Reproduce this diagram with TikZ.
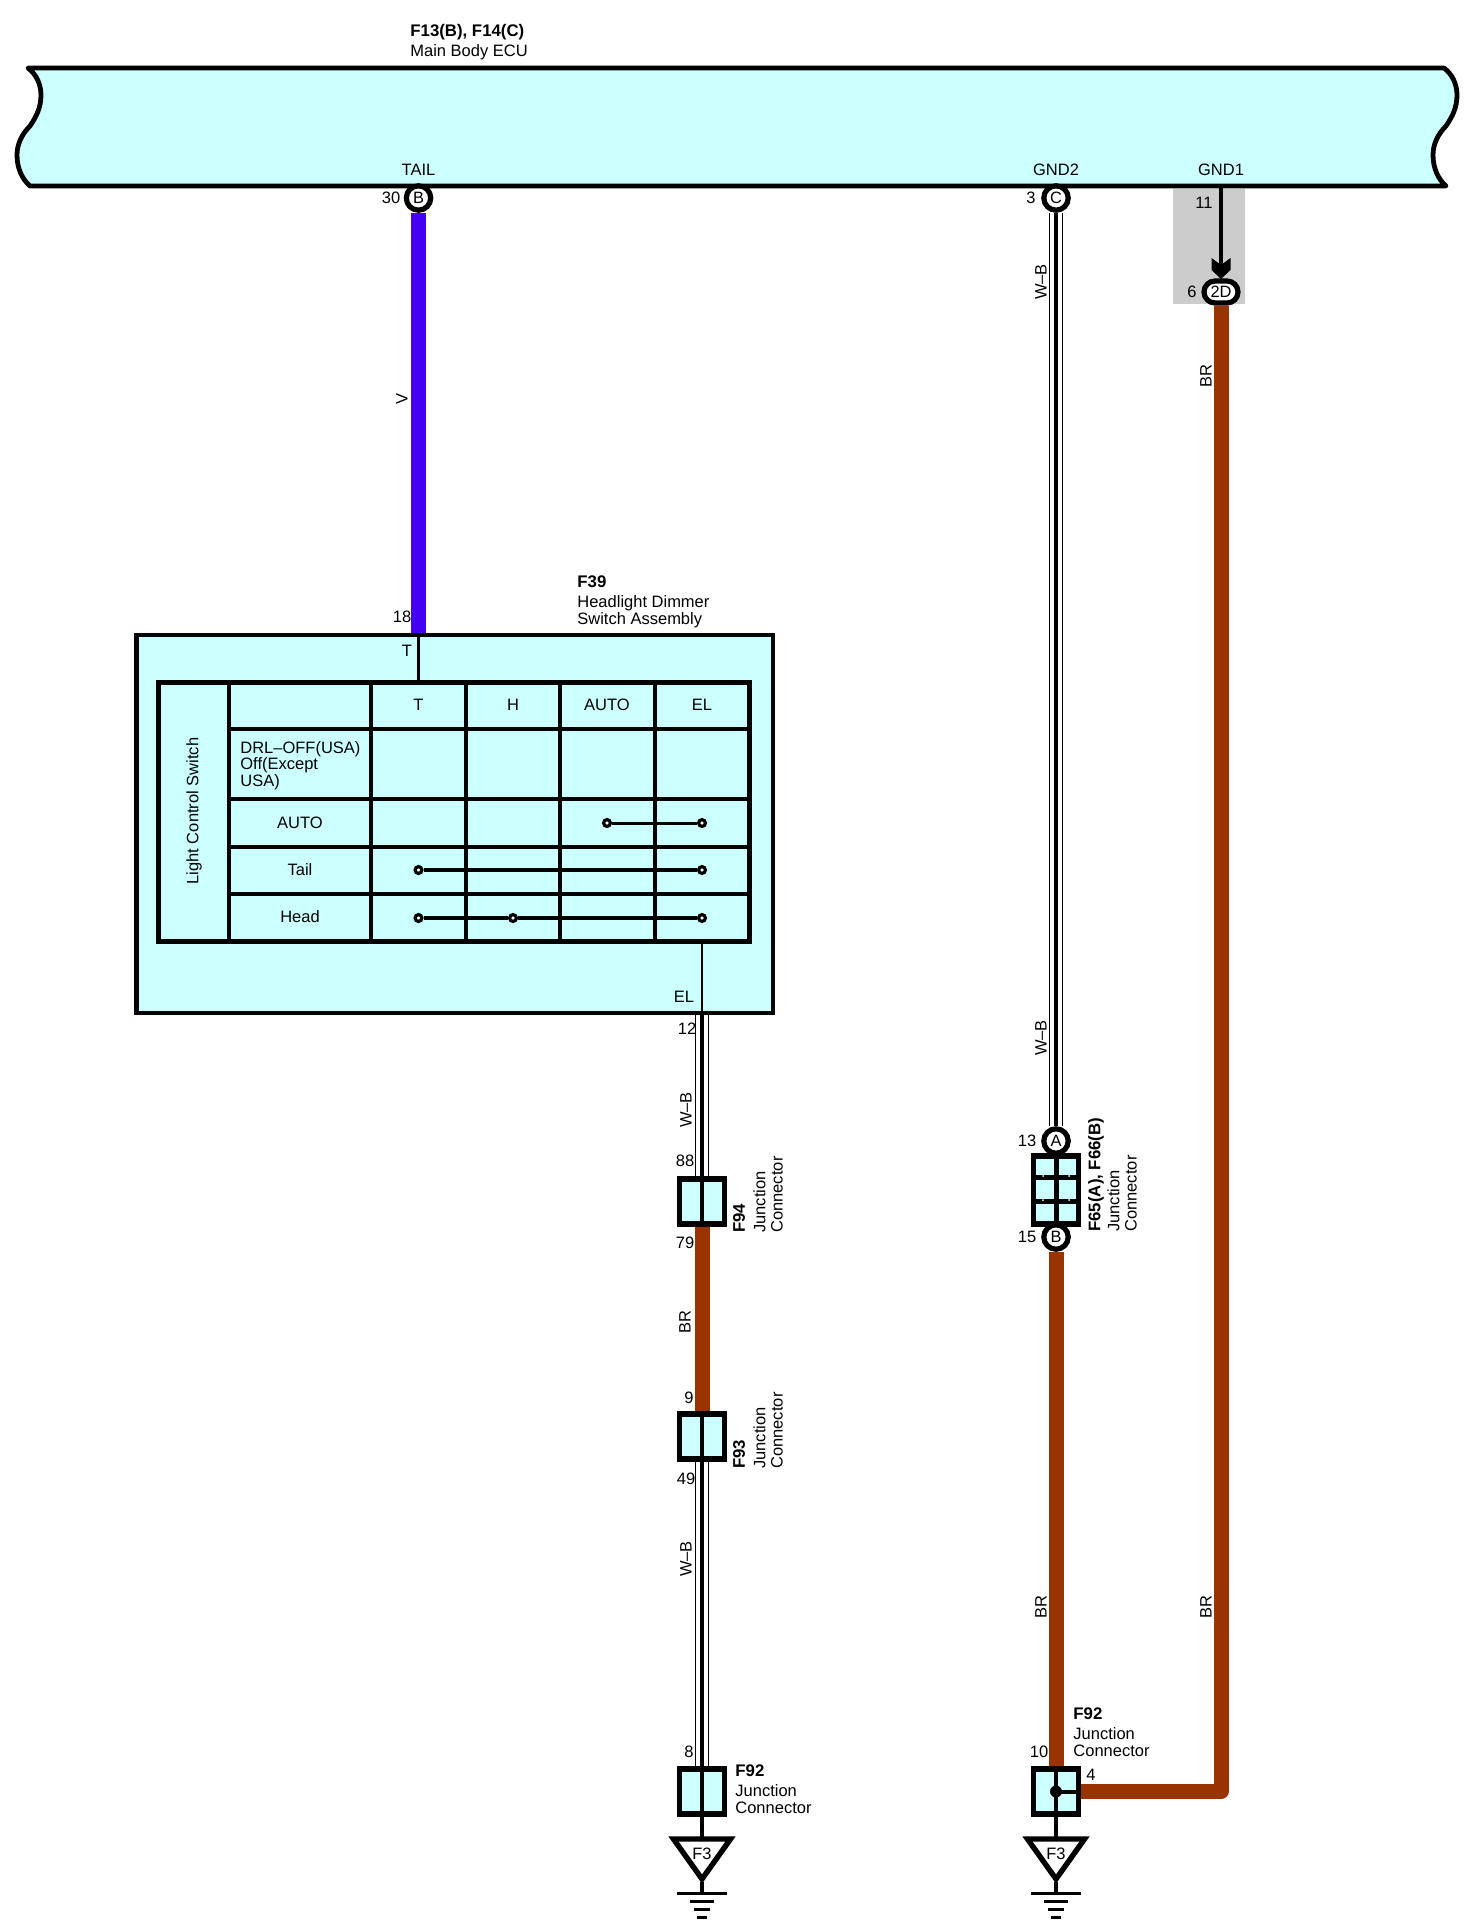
\documentclass[tikz,border=0pt]{standalone}
\usepackage{fontspec}
\setmainfont{Liberation Sans}
\usetikzlibrary{shapes.misc}
\definecolor{panel}{HTML}{CCFFFF}
\definecolor{wirev}{HTML}{4400F0}
\definecolor{wirebr}{HTML}{993300}
\definecolor{greyzone}{HTML}{CCCCCC}
\tikzset{
  x=0.5pt,y=-0.5pt,
  txt/.style={font=\fontsize{8.25}{8.25}\selectfont,inner sep=0pt,align=left},
  ttl/.style={font=\fontsize{8.4}{8.4}\bfseries\selectfont,inner sep=0pt},
  pin/.style={circle,draw=black,fill=white,line width=2.6pt,minimum size=12.2pt,inner sep=0pt,font=\fontsize{8.2}{8.2}\selectfont},
  oval/.style={rounded rectangle,draw=black,fill=white,line width=2.6pt,minimum width=17pt,minimum height=11pt,inner sep=0pt,font=\fontsize{8.2}{8.2}\selectfont},
  jbox/.style={rectangle,draw=black,fill=panel,line width=2.8pt,minimum width=22.6pt,minimum height=22.6pt,inner sep=0pt},
  wireV/.style={draw=wirev,line width=7.5pt},
  wireBR/.style={draw=wirebr,line width=7.5pt,line join=round},
  wireWB/.style={draw=black,line width=6.8pt,postaction={draw=white,line width=5.8pt},postaction={draw=black,line width=2.2pt}},
  thin wire/.style={draw=black,line width=1.4pt},
  grid/.style={draw=black,line width=1.7pt},
  gnd/.style={draw=black,line width=1.5pt},
  tri/.style={draw=black,fill=white,line width=2.7pt,line join=miter},
  dot/.style={circle,draw=black,fill=white,line width=1.6pt,minimum size=3.4pt,inner sep=0pt},
}
\begin{document}
\begin{tikzpicture}
\useasboundingbox (0,0) rectangle (1470,1932);
% ECU
\fill[greyzone] (1173,189) rectangle (1245,304);
\path[draw=black,fill=panel,line width=2.4pt,line join=round]
 (28,68) -- (1444,68)
 .. controls (1452,74) and (1457,84) .. (1457,95)
 .. controls (1457,108) and (1452,117) .. (1446,126)
 .. controls (1438,134) and (1433,144) .. (1433,155)
 .. controls (1433,168) and (1438,179) .. (1446,186)
 -- (30,186)
 .. controls (22,179) and (17,168) .. (17,155)
 .. controls (17,144) and (22,134) .. (30,126)
 .. controls (36,117) and (41,108) .. (41,95)
 .. controls (41,84) and (36,74) .. (28,68) -- cycle;
\coordinate (ecuGnd) at (1221,186);
\node[ttl,anchor=west] (ecuT) at (410,32) {F13(B), F14(C)};
\node[txt,anchor=west] (ecuN) at (410,52) {Main Body ECU};
\node[txt] (lTail) at (418.5,170) {TAIL};
\node[txt] (lG2) at (1056,170) {GND2};
\node[txt] (lG1) at (1221,170) {GND1};
% pins
\node[pin] (pB) at (418.5,198) {B};
\node[pin] (pC) at (1056,198) {C};
\node[oval] (p2D) at (1221,292) {2D};
\node[pin] (pA) at (1056,1141) {A};
\node[pin] (pBb) at (1056,1237) {B};
\node[txt] (n30) at (391,198) {30};
\node[txt] (n3) at (1031,198) {3};
\node[txt] (n11) at (1204,203) {11};
\node[txt] (n6) at (1192,292) {6};
\node[txt] (n13) at (1027,1141) {13};
\node[txt] (n15) at (1027,1237) {15};
% dimmer switch
\node[rectangle,draw=black,fill=panel,line width=2.4pt,minimum width=318.25pt,minimum height=189pt,inner sep=0pt] (sw) at (454.7,824) {};
\coordinate (swTi) at (418.5,636);
\coordinate (swBi) at (702,1011);
\coordinate (tblT) at (418.5,682);
\coordinate (tblB) at (702,941);
\draw[thin wire] (swTi) -- (tblT);
\draw[thin wire] (tblB) -- (swBi);
\draw[grid] (229,681) -- (229,941)
 (371,681) -- (371,941) (466,681) -- (466,941) (560,681) -- (560,941) (655,681) -- (655,941)
 (229,729) -- (750,729) (229,799) -- (750,799) (229,847) -- (750,847) (229,894) -- (750,894);
\draw[draw=black,line width=2.5pt] (158,682) rectangle (749,941);
\node[txt,rotate=90] (lcs) at (194,811) {Light Control Switch};
\node[txt] (hT) at (418.5,705) {T};
\node[txt] (hH) at (513,705) {H};
\node[txt] (hA) at (607,705) {AUTO};
\node[txt] (hE) at (702,705) {EL};
\node[txt,anchor=north west,font=\fontsize{8.25}{8.3}\selectfont] (rD) at (240,741) {DRL–OFF(USA)\\Off(Except\\USA)};
\node[txt] (rA) at (300,823) {AUTO};
\node[txt] (rT) at (300,870) {Tail};
\node[txt] (rH) at (300,917) {Head};
\node[dot] (a1) at (607,823) {};
\node[dot] (a2) at (702,823) {};
\node[dot] (t1) at (418.5,870) {};
\node[dot] (t2) at (702,870) {};
\node[dot] (h1) at (418.5,918) {};
\node[dot] (h2) at (513,918) {};
\node[dot] (h3) at (702,918) {};
\draw[draw=black,line width=1.5pt] (a1) -- (a2);
\draw[draw=black,line width=1.7pt] (t1) -- (t2);
\draw[draw=black,line width=2pt] (h1) -- (h2);
\draw[draw=black,line width=2pt] (h2) -- (h3);
\node[ttl,anchor=west] (swt) at (577,582) {F39};
\node[txt,anchor=north west,font=\fontsize{8.25}{8.6}\selectfont] (swn) at (577,595) {Headlight Dimmer\\Switch Assembly};
\node[txt] (n18) at (402,617) {18};
\node[txt] (lT) at (407,651) {T};
\node[txt] (lEL) at (684,997) {EL};
\node[txt] (n12) at (687,1029) {12};
% junctions
\node[jbox] (j94) at (702,1201.5) {};
\node[jbox] (j93) at (702,1436.5) {};
\node[jbox] (j92l) at (702,1791.5) {};
\node[jbox,minimum height=34pt] (j65) at (1056,1190) {};
\node[jbox] (j92r) at (1056,1791.5) {};
\foreach \b in {j94,j93,j92l}{\draw[draw=black,line width=2pt] (\b.north) -- (\b.south);}
\draw[draw=black,line width=2.5pt] (j65.north) -- (j65.south);
\draw[draw=black,line width=2.5pt] (j65.west |- 0,1177) -- (j65.east |- 0,1177);
\draw[draw=black,line width=2.5pt] (j65.west |- 0,1201) -- (j65.east |- 0,1201);
\fill[white] (1043,1176) circle[radius=1] (1069,1176) circle[radius=1] (1043,1200) circle[radius=1] (1069,1200) circle[radius=1];
\draw[draw=black,line width=2pt] (j92r.north) -- (j92r.south);
\draw[draw=black,line width=2pt] (j92r.center) -- (j92r.east);
\fill[black] (j92r.center) circle[radius=6];
% wires
\draw[wireV] (pB) -- (sw.north -| pB);
\draw[wireWB] (sw.south -| j94.north) -- (j94.north);
\draw[wireBR] (j94.south) -- (j93.north);
\draw[wireWB] (j93.south) -- (j92l.north);
\draw[wireWB] (pC) -- (pA);
\draw[wireBR] (pBb) -- (j92r.north);
\draw[wireBR] (p2D) |- (j92r.east);
\draw[draw=black,line width=2pt] (ecuGnd) -- (1221,272);
\fill[black] (1211.5,258) -- (1221,265) -- (1230.5,258) -- (1230.5,270) -- (1221,279) -- (1211.5,270) -- cycle;
% ground left
\draw[tri] (673.5,1839) -- (730.5,1839) -- (702,1879) -- cycle;
\node[txt] (f3l) at (702,1854) {F3};
\coordinate (gl0) at (702,1838);
\coordinate (gl1) at (702,1882);
\coordinate (gl2) at (702,1893);
\draw[draw=black,line width=2pt] (j92l.south) -- (gl0);
\draw[draw=black,line width=2pt] (gl1) -- (gl2);
\draw[gnd] (677,1893) -- (727,1893) (690,1901) -- (714,1901) (694,1909) -- (710,1909) (697,1917) -- (707,1917);
% ground right
\draw[tri] (1027.5,1839) -- (1084.5,1839) -- (1056,1879) -- cycle;
\node[txt] (f3r) at (1056,1854) {F3};
\coordinate (gr0) at (1056,1838);
\coordinate (gr1) at (1056,1882);
\coordinate (gr2) at (1056,1893);
\draw[draw=black,line width=2pt] (j92r.south) -- (gr0);
\draw[draw=black,line width=2pt] (gr1) -- (gr2);
\draw[gnd] (1031,1893) -- (1081,1893) (1044,1901) -- (1068,1901) (1048,1909) -- (1064,1909) (1051,1917) -- (1061,1917);
% wire labels
\node[txt,rotate=90] (c1) at (1041,282) {W–B};
\node[txt,rotate=90] (c2) at (1041,1038) {W–B};
\node[txt,rotate=90] (c3) at (402,399) {V};
\node[txt,rotate=90] (c4) at (1206,376) {BR};
\node[txt,rotate=90] (c5) at (1206,1607) {BR};
\node[txt,rotate=90] (c6) at (1041,1607) {BR};
\node[txt,rotate=90] (c7) at (686,1110) {W–B};
\node[txt,rotate=90] (c8) at (685,1322) {BR};
\node[txt,rotate=90] (c9) at (686,1559) {W–B};
% numbers
\node[txt] (n88) at (685,1161) {88};
\node[txt] (n79) at (685,1243) {79};
\node[txt] (n9) at (689,1398) {9};
\node[txt] (n49) at (686,1479) {49};
\node[txt] (n8) at (689,1752) {8};
\node[txt] (n10) at (1039,1752) {10};
\node[txt] (n4) at (1091,1775) {4};
% connector captions
\node[ttl,rotate=90,anchor=west] (t94) at (739,1233) {F94};
\node[txt,rotate=90,anchor=north west,font=\fontsize{8.25}{8.6}\selectfont] (d94) at (753,1233) {Junction\\Connector};
\node[ttl,rotate=90,anchor=west] (t93) at (739,1469) {F93};
\node[txt,rotate=90,anchor=north west,font=\fontsize{8.25}{8.6}\selectfont] (d93) at (753,1469) {Junction\\Connector};
\node[ttl,rotate=90,anchor=west] (t65) at (1096,1232) {F65(A), F66(B)};
\node[txt,rotate=90,anchor=north west,font=\fontsize{8.25}{8.6}\selectfont] (d65) at (1107,1232) {Junction\\Connector};
\node[ttl,anchor=west] (t92l) at (735,1771) {F92};
\node[txt,anchor=north west,font=\fontsize{8.25}{8.6}\selectfont] (d92l) at (735,1784) {Junction\\Connector};
\node[ttl,anchor=west] (t92r) at (1073,1714) {F92};
\node[txt,anchor=north west,font=\fontsize{8.25}{8.6}\selectfont] (d92r) at (1073,1727) {Junction\\Connector};
\end{tikzpicture}
\end{document}
